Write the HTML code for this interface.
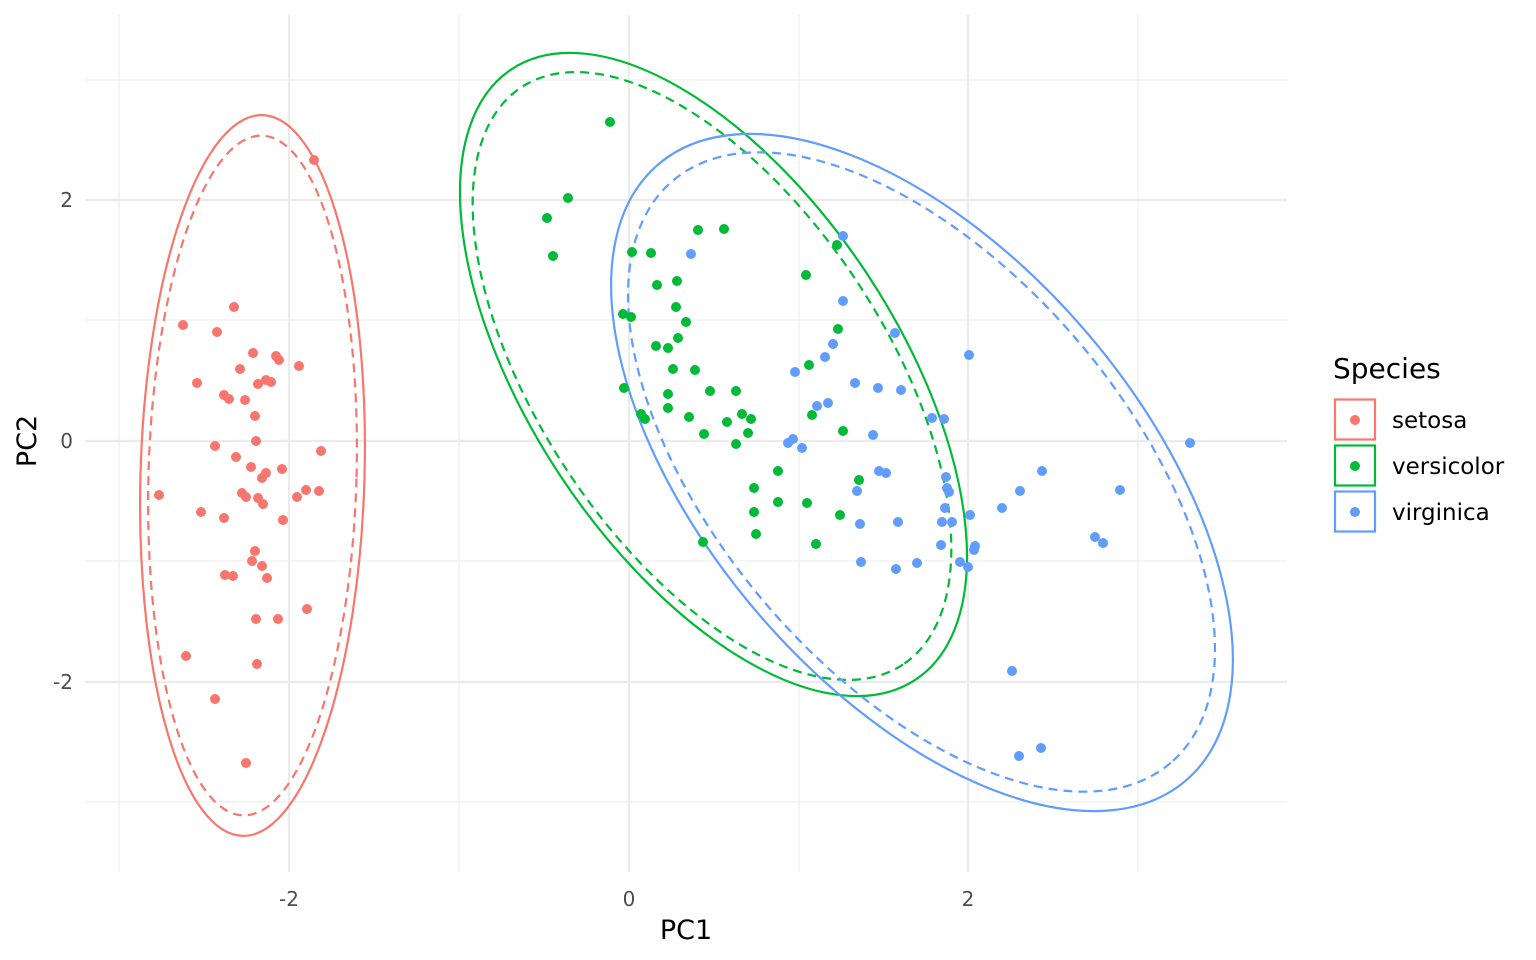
<!DOCTYPE html>
<html><head><meta charset="utf-8"><style>body{margin:0;background:#fff}svg{display:block}text{font-family:"DejaVu Sans","Liberation Sans",sans-serif}</style></head><body>
<svg width="1536" height="960" viewBox="0 0 1536 960" xmlns="http://www.w3.org/2000/svg">
<g stroke="#ebebeb" stroke-width="1.1">
<line x1="119" y1="15" x2="119" y2="872"/><line x1="459" y1="15" x2="459" y2="872"/><line x1="799" y1="15" x2="799" y2="872"/><line x1="1138" y1="15" x2="1138" y2="872"/>
<line x1="85" y1="80" x2="1287" y2="80"/><line x1="85" y1="320" x2="1287" y2="320"/><line x1="85" y1="561" x2="1287" y2="561"/><line x1="85" y1="802" x2="1287" y2="802"/>
</g>
<g stroke="#ebebeb" stroke-width="2.2">
<line x1="289" y1="15" x2="289" y2="872"/><line x1="629" y1="15" x2="629" y2="872"/><line x1="968" y1="15" x2="968" y2="872"/>
<line x1="85" y1="200" x2="1287" y2="200"/><line x1="85" y1="441" x2="1287" y2="441"/><line x1="85" y1="682" x2="1287" y2="682"/>
</g>
<g fill="none" stroke-width="2.2">
<ellipse cx="252.5" cy="475.5" rx="112" ry="360.5" transform="rotate(1.6 252.5 475.5)" stroke="#F8766D"/>
<ellipse cx="252.5" cy="475.5" rx="104" ry="340" transform="rotate(1.6 252.5 475.5)" stroke="#F8766D" stroke-dasharray="9,6"/>
<ellipse cx="713.5" cy="374.5" rx="366" ry="183.6" transform="rotate(56.5 713.5 374.5)" stroke="#00BA38"/>
<ellipse cx="712" cy="376" rx="346" ry="173" transform="rotate(56.5 712 376)" stroke="#00BA38" stroke-dasharray="9,6"/>
<ellipse cx="922" cy="472.5" rx="405.6" ry="216.2" transform="rotate(49.4 922 472.5)" stroke="#619CFF"/>
<ellipse cx="921.5" cy="472" rx="383" ry="204" transform="rotate(49.4 921.5 472)" stroke="#619CFF" stroke-dasharray="9,6"/>
</g>
<g fill="#F8766D" id="s"></g><g fill="#00BA38" id="v"></g><g fill="#619CFF" id="g"></g>
<g font-size="20" fill="#4d4d4d" text-anchor="middle">
<text x="289" y="906">-2</text><text x="629" y="906">0</text><text x="968" y="906">2</text>
<text x="73" y="207" text-anchor="end">2</text><text x="73" y="448" text-anchor="end">0</text><text x="73" y="689" text-anchor="end">-2</text>
</g>
<text x="686" y="939" font-size="27" text-anchor="middle">PC1</text>
<text x="0" y="0" font-size="27" text-anchor="middle" transform="translate(36 441) rotate(-90)">PC2</text>
<text x="1333" y="378" font-size="28">Species</text>
<rect x="1335" y="399.5" width="40" height="40" fill="none" stroke="#F8766D" stroke-width="2.2"/>
<rect x="1335" y="445.5" width="40" height="40" fill="none" stroke="#00BA38" stroke-width="2.2"/>
<rect x="1335" y="491.5" width="40" height="40" fill="none" stroke="#619CFF" stroke-width="2.2"/>
<circle cx="1355" cy="420" r="5" fill="#F8766D"/><circle cx="1355" cy="466" r="5" fill="#00BA38"/><circle cx="1355" cy="512" r="5" fill="#619CFF"/>
<g font-size="23"><text x="1392" y="428">setosa</text><text x="1392" y="474">versicolor</text><text x="1392" y="520">virginica</text></g>
</svg>
<script>
var d={s:[[314,160],[234,307],[183,325],[217,332],[253,353],[299,366],[240,369],[279,360],[276,356],[271,382],[266,380],[258,384],[197,383],[224,395],[229,399],[245,400],[255,416],[256,441],[215,446],[236,457],[321,451],[282,469],[266,473],[262,478],[251,467],[306,490],[297,497],[319,491],[159,495],[242,493],[246,497],[258,498],[263,504],[201,512],[224,518],[283,520],[255,551],[262,566],[252,561],[225,575],[233,576],[267,578],[307,609],[256,619],[278,619],[186,656],[257,664],[215,699],[246,763]],
v:[[610,122],[568,198],[547,218],[553,256],[698,230],[724,229],[632,252],[651,253],[837,245],[806,275],[657,285],[677,281],[676,307],[623,314],[631,317],[686,322],[838,329],[678,338],[656,346],[668,348],[809,365],[673,369],[695,370],[624,388],[710,391],[736,391],[668,394],[668,408],[641,414],[645,419],[689,417],[742,414],[727,422],[751,419],[812,415],[748,433],[704,434],[843,431],[736,444],[778,471],[859,480],[754,488],[778,502],[807,503],[754,512],[840,515],[756,534],[703,542],[816,544]],
g:[[843,236],[691,254],[843,301],[895,333],[833,344],[825,357],[969,355],[795,372],[855,383],[878,388],[901,390],[828,403],[817,406],[932,418],[944,419],[873,435],[788,443],[793,439],[802,448],[1190,443],[879,471],[886,473],[1042,471],[946,477],[947,488],[949,492],[1020,491],[857,491],[1120,490],[945,508],[1002,508],[970,515],[952,522],[942,522],[898,522],[860,524],[975,546],[974,550],[941,545],[1095,537],[1103,543],[861,562],[896,569],[917,563],[960,562],[968,567],[1012,671],[1041,748],[1019,756]]};
for(var k in d){var g=document.getElementById(k),h='';d[k].forEach(function(p){h+='<circle cx="'+p[0]+'" cy="'+p[1]+'" r="5"/>';});g.innerHTML=h;}
</script>
</body></html>
